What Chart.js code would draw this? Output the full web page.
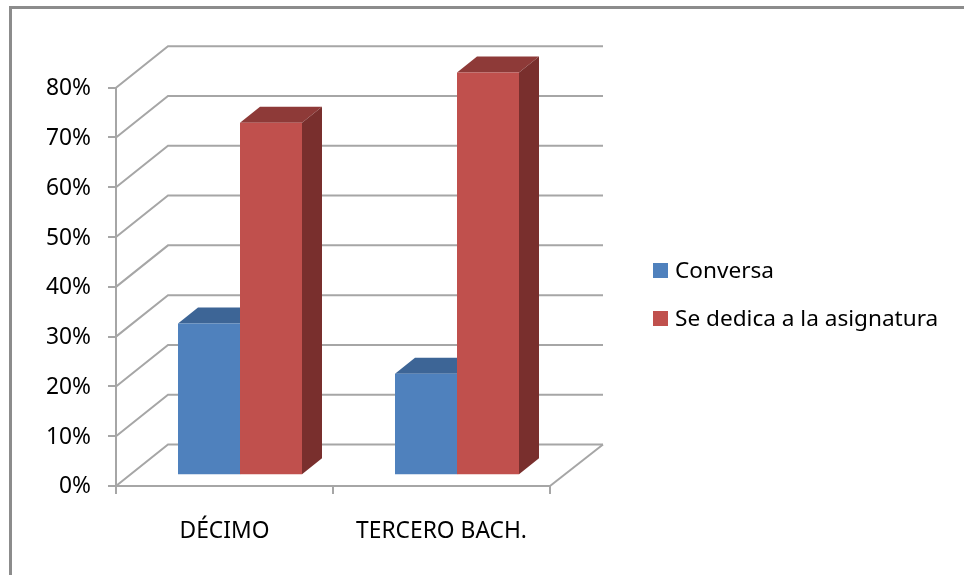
<!DOCTYPE html>
<html>
<head>
<meta charset="utf-8">
<style>
html,body{margin:0;padding:0;background:#fff;overflow:hidden}
#wrap{position:relative;width:964px;height:575px}
canvas{display:block;filter:blur(0.4px)}
</style>
<script src="https://cdn.jsdelivr.net/npm/chart.js@4"></script>
</head>
<body>
<div id="wrap"><canvas id="c" width="964" height="575"></canvas></div>
<script>
const categories = ["DÉCIMO", "TERCERO BACH."];
const conversa = [0.30, 0.20];
const seDedica = [0.70, 0.80];
const seriesNames = ["Conversa", "Se dedica a la asignatura"];
const frontColors = ["#4f81bd", "#c0504d"];
const topColors = ["#3d6596", "#8e3a38"];
const sideColors = ["#2f5079", "#792f2d"];
const FONT = "'Noto Sans', sans-serif";
const AXIS = "#a6a6a6";

const wall = {dx: 52, dy: -41.5};
const barShift = {dx: 15.5, dy: -11.7};
const depth = {dx: 20, dy: -16};

const plugin3d = {
  id: "plugin3d",
  beforeDraw(chart) {
    const ctx = chart.ctx;
    ctx.save();
    ctx.fillStyle = "#8c8c8c";
    ctx.fillRect(9, 6, 955, 3);
    ctx.fillRect(9, 6, 3, 569);
    ctx.restore();
  },
  beforeDatasetsDraw(chart) {
    const ctx = chart.ctx, y = chart.scales.y, x = chart.scales.x;
    ctx.save();
    ctx.strokeStyle = AXIS;
    ctx.lineWidth = 2;
    y.ticks.forEach(t => {
      const py = y.getPixelForValue(t.value);
      ctx.beginPath();
      ctx.moveTo(x.left, py);
      ctx.lineTo(x.left + wall.dx, py + wall.dy);
      ctx.lineTo(x.right + wall.dx + 1, py + wall.dy);
      ctx.stroke();
    });
    const by = y.getPixelForValue(0);
    ctx.beginPath();
    ctx.moveTo(x.right, by);
    ctx.lineTo(x.right + wall.dx + 1, by + wall.dy);
    ctx.stroke();
    ctx.restore();

    ctx.save();
    ctx.translate(barShift.dx, barShift.dy);
    chart.data.datasets.forEach((ds, di) => {
      chart.getDatasetMeta(di).data.forEach(b => {
        const l = b.x - b.width / 2, r = b.x + b.width / 2;
        ctx.fillStyle = topColors[di];
        ctx.beginPath();
        ctx.moveTo(l, b.y);
        ctx.lineTo(l + depth.dx, b.y + depth.dy);
        ctx.lineTo(r + depth.dx, b.y + depth.dy);
        ctx.lineTo(r, b.y);
        ctx.closePath();
        ctx.fill();
        ctx.fillStyle = sideColors[di];
        ctx.beginPath();
        ctx.moveTo(r, b.y);
        ctx.lineTo(r + depth.dx, b.y + depth.dy);
        ctx.lineTo(r + depth.dx, b.base + depth.dy);
        ctx.lineTo(r, b.base);
        ctx.closePath();
        ctx.fill();
      });
    });
  },
  afterDatasetsDraw(chart) {
    chart.ctx.restore();
    const ctx = chart.ctx;
    ctx.save();
    ctx.font = "22.6px " + FONT;
    ctx.textBaseline = "middle";
    ctx.textAlign = "left";
    chart.data.datasets.forEach((ds, i) => {
      const cy = 270.5 + i * 48;
      ctx.fillStyle = ds.backgroundColor;
      ctx.fillRect(653, cy - 7.5, 15, 15);
      ctx.fillStyle = "#000";
      ctx.fillText(ds.label, 675, cy + 1);
    });
    ctx.restore();
  }
};

new Chart(document.getElementById("c"), {
  type: "bar",
  data: {
    labels: categories,
    datasets: [
      {label: seriesNames[0], data: conversa, backgroundColor: frontColors[0], yAxisID: "yBars", clip: false},
      {label: seriesNames[1], data: seDedica, backgroundColor: frontColors[1], yAxisID: "yBars", clip: false}
    ]
  },
  options: {
    responsive: false,
    animation: false,
    events: [],
    layout: {padding: {left: 0, top: 87.7, right: 414, bottom: 0}},
    datasets: {bar: {barPercentage: 1, categoryPercentage: 0.57143}},
    plugins: {legend: {display: false}, tooltip: {enabled: false}, title: {display: false}},
    scales: {
      x: {
        grid: {display: true, drawOnChartArea: false, drawTicks: true, tickLength: 8, color: AXIS, lineWidth: 2},
        border: {display: true, color: AXIS, width: 2},
        ticks: {color: "#000", font: {family: FONT, size: 22.8}, padding: 24, maxRotation: 0, autoSkip: false},
        afterFit(s) { s.height = 89; }
      },
      y: {
        min: 0, max: 0.8,
        grid: {display: true, drawOnChartArea: false, drawTicks: true, tickLength: 8, color: AXIS, lineWidth: 2},
        border: {display: true, color: AXIS, width: 2},
        ticks: {
          stepSize: 0.1, color: "#000", font: {family: FONT, size: 22.8}, padding: 17, labelOffset: 1,
          callback: v => Math.round(v * 100) + "%"
        },
        afterFit(s) { s.width = 116; }
      },
      yBars: {display: false, min: 0, max: 0.793}
    }
  },
  plugins: [plugin3d]
});
</script>
</body>
</html>
